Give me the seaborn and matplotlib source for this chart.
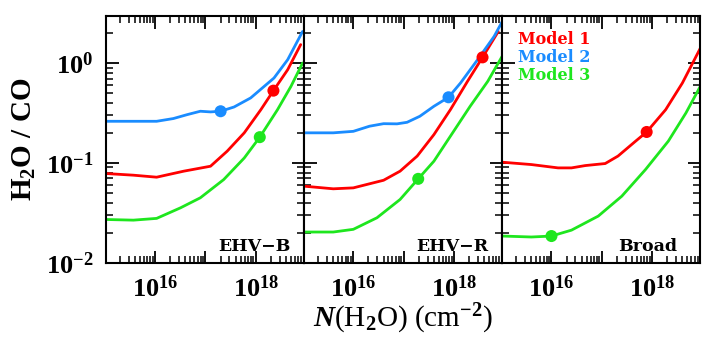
import matplotlib
matplotlib.use("Agg")
import matplotlib.pyplot as plt
import matplotlib.ticker as mticker
import numpy as np
import pandas as pd
import seaborn as sns

# =============================================================================
# Data
# =============================================================================

panel_names = ["EHV-B", "EHV-R", "Broad"]
model_names = ["Model 1", "Model 2", "Model 3"]
model_colors = {"Model 1": "#ff0000", "Model 2": "#1a8cff", "Model 3": "#1ee61e"}

# EHV-B
b_m1_n = [1.07e15, 3.7e15, 1.07e16, 3.7e16, 1.26e17, 2.7e17, 5.9e17, 1.26e18, 2.24e18, 4.3e18, 7.8e18]
b_m1_r = [0.0782, 0.0753, 0.0719, 0.0826, 0.0926, 0.131, 0.20, 0.341, 0.529, 0.857, 1.53]
b_m2_n = [1.07e15, 1.07e16, 2.3e16, 4.3e16, 7.9e16, 1.26e17, 2.0e17, 3.7e17, 7.9e17, 2.3e18, 4.3e18, 8.5e18]
b_m2_r = [0.261, 0.261, 0.278, 0.304, 0.329, 0.324, 0.329, 0.363, 0.447, 0.708, 1.08, 2.07]
b_m3_n = [1.07e15, 3.7e15, 1.07e16, 3.2e16, 7.9e16, 2.3e17, 5.9e17, 1.2e18, 2.7e18, 5.0e18, 8.5e18]
b_m3_r = [0.0271, 0.0267, 0.0278, 0.0355, 0.0447, 0.068, 0.112, 0.181, 0.341, 0.584, 1.0]

# EHV-R
r_m1_n = [1.07e15, 4.0e15, 1.0e16, 4.0e16, 8.5e16, 1.86e17, 4.0e17, 8.5e17, 1.86e18, 3.7e18, 7.6e18]
r_m1_r = [0.0584, 0.055, 0.0562, 0.067, 0.0826, 0.117, 0.192, 0.341, 0.656, 1.14, 2.07]
r_m2_n = [1.07e15, 4.0e15, 1.0e16, 2.1e16, 4.0e16, 7.4e16, 1.17e17, 2.1e17, 4.0e17, 7.8e17, 1.35e18, 2.95e18, 6.3e18, 9.1e18]
r_m2_r = [0.20, 0.20, 0.207, 0.233, 0.247, 0.246, 0.255, 0.293, 0.369, 0.454, 0.631, 1.08, 1.85, 2.6]
r_m3_n = [1.07e15, 4.0e15, 1.0e16, 2.95e16, 8.5e16, 1.95e17, 4.0e17, 8.5e17, 2.1e18, 4.7e18, 9.1e18]
r_m3_r = [0.0203, 0.0203, 0.0216, 0.0282, 0.043, 0.0692, 0.104, 0.185, 0.369, 0.656, 1.17]

# Broad
w_m1_n = [1.07e15, 4.0e15, 1.35e16, 2.5e16, 4.7e16, 1.17e17, 2.1e17, 4.7e17, 7.8e17, 1.86e18, 4.0e18, 9.1e18]
w_m1_r = [0.1015, 0.0962, 0.0891, 0.0891, 0.094, 0.0985, 0.117, 0.165, 0.204, 0.341, 0.631, 1.41]
w_m3_n = [1.07e15, 4.0e15, 1.0e16, 2.5e16, 8.5e16, 2.5e17, 7.4e17, 2.1e18, 4.7e18, 9.1e18]
w_m3_r = [0.0185, 0.0181, 0.0185, 0.0212, 0.0293, 0.0464, 0.0858, 0.165, 0.316, 0.585]

# Best-fit points (dots)
dot_panel = ["EHV-B", "EHV-B", "EHV-B", "EHV-R", "EHV-R", "EHV-R", "Broad", "Broad"]
dot_model = ["Model 1", "Model 2", "Model 3", "Model 1", "Model 2", "Model 3", "Model 1", "Model 3"]
dot_n = [2.24e18, 2.0e17, 1.2e18, 3.7e18, 7.8e17, 1.95e17, 7.8e17, 1.0e16]
dot_r = [0.529, 0.329, 0.181, 1.14, 0.454, 0.0692, 0.204, 0.0185]

curves = {
    ("EHV-B", "Model 1"): (b_m1_n, b_m1_r),
    ("EHV-B", "Model 2"): (b_m2_n, b_m2_r),
    ("EHV-B", "Model 3"): (b_m3_n, b_m3_r),
    ("EHV-R", "Model 1"): (r_m1_n, r_m1_r),
    ("EHV-R", "Model 2"): (r_m2_n, r_m2_r),
    ("EHV-R", "Model 3"): (r_m3_n, r_m3_r),
    ("Broad", "Model 1"): (w_m1_n, w_m1_r),
    ("Broad", "Model 3"): (w_m3_n, w_m3_r),
}

rows = []
for (panel, model), (n, r) in curves.items():
    for i in range(len(n)):
        rows.append({"panel": panel, "model": model, "N": n[i], "ratio": r[i]})
curve_df = pd.DataFrame(rows)
dot_df = pd.DataFrame({"panel": dot_panel, "model": dot_model, "N": dot_n, "ratio": dot_r})

# =============================================================================
# Plot
# =============================================================================

sns.set_theme(style="ticks")
plt.rcParams["font.family"] = ["Liberation Serif", "DejaVu Serif"]
plt.rcParams["font.weight"] = "bold"
plt.rcParams["text.color"] = "black"
plt.rcParams["axes.labelcolor"] = "black"
plt.rcParams["mathtext.fontset"] = "custom"
plt.rcParams["mathtext.rm"] = "Liberation Serif:bold"
plt.rcParams["mathtext.it"] = "Liberation Serif:italic:bold"
plt.rcParams["mathtext.bf"] = "Liberation Serif:bold"


def x_label_fmt(v, pos):
    e = int(round(np.log10(v)))
    return rf"$10^{{{e}}}$" if e in (16, 18) else ""


def y_label_fmt(v, pos):
    e = int(round(np.log10(v)))
    return rf"$10^{{{e}}}$"


major_locs = [10.0 ** e for e in range(-3, 21)]
x_minor = [k * 10.0 ** e for e in range(13, 21) for k in range(2, 10)]
y_minor = [k * 10.0 ** e for e in range(-3, 2) for k in range(2, 10)]

fig, axes = plt.subplots(1, 3, figsize=(7.06, 3.52), dpi=100, sharey=True)
fig.subplots_adjust(left=0.150, right=0.992, top=0.955, bottom=0.253, wspace=0)

for ax, panel in zip(axes, panel_names):
    sub = curve_df[curve_df["panel"] == panel]
    sns.lineplot(
        data=sub, x="N", y="ratio", hue="model", palette=model_colors,
        units="model", estimator=None, sort=False, linewidth=2.0,
        legend=False, ax=ax,
    )
    dsub = dot_df[dot_df["panel"] == panel]
    sns.scatterplot(
        data=dsub, x="N", y="ratio", hue="model", palette=model_colors,
        s=75, edgecolor="none", legend=False, ax=ax, zorder=5,
    )
    ax.set_xscale("log")
    ax.set_yscale("log")
    ax.set_xlim(1.05e15, 9.1e18)
    ax.set_ylim(0.00995, 2.97)
    ax.set_xlabel("")
    ax.set_ylabel("")

    ax.xaxis.set_major_locator(mticker.FixedLocator(major_locs))
    ax.xaxis.set_major_formatter(mticker.FuncFormatter(x_label_fmt))
    ax.xaxis.set_minor_locator(mticker.FixedLocator(x_minor))
    ax.xaxis.set_minor_formatter(mticker.NullFormatter())
    ax.yaxis.set_major_locator(mticker.FixedLocator(major_locs))
    ax.yaxis.set_major_formatter(mticker.FuncFormatter(y_label_fmt))
    ax.yaxis.set_minor_locator(mticker.FixedLocator(y_minor))
    ax.yaxis.set_minor_formatter(mticker.NullFormatter())

    ax.tick_params(which="both", direction="in", top=True, right=True, colors="black")
    ax.tick_params(which="major", length=9, width=1.3, labelsize=19, pad=9)
    ax.tick_params(which="minor", length=5, width=1.1)
    for s in ax.spines.values():
        s.set_linewidth(1.5)
        s.set_color("black")

    ax.text(0.93 if panel != "Broad" else 0.885, 0.065, panel.replace("-", "\u2212"),
            transform=ax.transAxes, ha="right", va="center",
            fontsize=12.5, fontweight="bold", color="black", family="DejaVu Serif")

axes[0].set_ylabel(r"H$_2$O / CO", fontsize=21, fontweight="bold", labelpad=6, color="black")
axes[1].set_xlabel(r"$N$(H$_2$O) (cm$^{-2}$)", fontsize=21, labelpad=0, color="black")

for i, name in enumerate(model_names):
    axes[2].text(0.08, 0.903 - 0.073 * i, name, transform=axes[2].transAxes,
                 ha="left", va="center", fontsize=11.5, fontweight="bold",
                 color=model_colors[name], family="DejaVu Serif")

fig.savefig("out.png", dpi=100)
